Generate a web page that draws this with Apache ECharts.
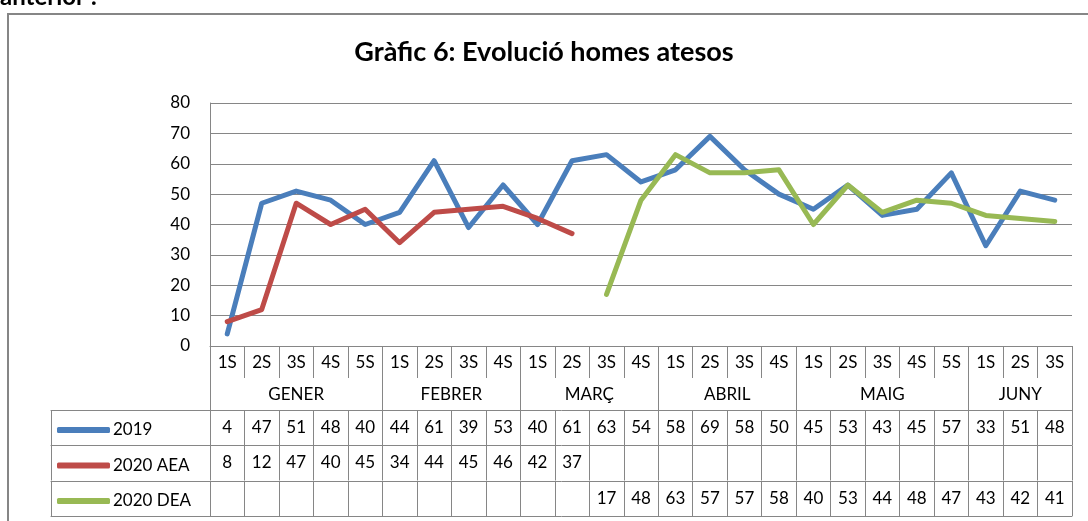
<!DOCTYPE html>
<html>
<head>
<meta charset="utf-8">
<script src="https://cdn.jsdelivr.net/npm/echarts@6/dist/echarts.min.js"></script>
<style>
  html, body { margin: 0; padding: 0; background: #fff; }
  #main { width: 1088px; height: 521px; }
</style>
</head>
<body>
<div id="main"></div>
<script>
// week labels (1S, 2S ...) and the months they belong to
var weeks = ['1S','2S','3S','4S','5S', '1S','2S','3S','4S', '1S','2S','3S','4S',
             '1S','2S','3S','4S', '1S','2S','3S','4S','5S', '1S','2S','3S'];
var months = ['GENER', 'FEBRER', 'MARÇ', 'ABRIL', 'MAIG', 'JUNY'];
var weeksPerMonth = [5, 4, 4, 4, 5, 3];

var seriesNames = ['2019', '2020 AEA', '2020 DEA'];
var v2019 = [4, 47, 51, 48, 40, 44, 61, 39, 53, 40, 61, 63, 54, 58, 69, 58, 50, 45, 53, 43, 45, 57, 33, 51, 48];
var vAEA = [8, 12, 47, 40, 45, 34, 44, 45, 46, 42, 37, null, null, null, null, null, null, null, null, null, null, null, null, null, null];
var vDEA = [null, null, null, null, null, null, null, null, null, null, null, 17, 48, 63, 57, 57, 58, 40, 53, 44, 48, 47, 43, 42, 41];
var yTicks = [0, 10, 20, 30, 40, 50, 60, 70, 80];

var colors = ['#4a7ebb', '#be4b48', '#98b954'];
var gray = '#868686';
var font = 'Lato, "Noto Sans", sans-serif';
var fs = 17;

var n = weeks.length;
var plotLeft = 210, plotW = 862, plotTop = 103, plotH = 243;
var tableLeft = 51;
var tableMin = -n * (plotLeft - tableLeft) / plotW;

// month boundaries and centres
var monthEdges = [0], monthCenters = {};
var acc = 0;
weeksPerMonth.forEach(function (w, i) {
  monthCenters[acc + w / 2] = months[i];
  acc += w;
  monthEdges.push(acc);
});

var cellEdges = [tableMin];
for (var i = 0; i <= n; i++) cellEdges.push(i);

var allValues = [v2019, vAEA, vDEA];
var rowOffsets = [64, 99.5, 135];
var rowH = 35;

var xAxes = [
  {
    type: 'category', gridIndex: 0, data: weeks,
    axisLine: { onZero: false, lineStyle: { color: gray, width: 1 } },
    axisTick: { show: true, interval: 0, length: 32, lineStyle: { color: gray } },
    axisLabel: { interval: 0, margin: 8, color: '#000', fontSize: fs, fontFamily: font }
  },
  {
    type: 'value', gridIndex: 0, min: 0, max: n, position: 'bottom', offset: 32,
    axisLine: { show: false, onZero: false }, splitLine: { show: false },
    axisTick: { show: true, customValues: monthEdges, length: 32, lineStyle: { color: gray } },
    axisLabel: {
      customValues: Object.keys(monthCenters).map(Number), margin: 8,
      color: '#000', fontSize: fs, fontFamily: font,
      formatter: function (v) { return monthCenters[v] || ''; }
    }
  }
];

allValues.forEach(function (vals, r) {
  var centers = [];
  vals.forEach(function (v, i) { if (v != null) centers.push(i + 0.5); });
  xAxes.push({
    type: 'value', gridIndex: 1, min: tableMin, max: n, position: 'bottom', offset: rowOffsets[r],
    axisLine: { show: true, onZero: false, lineStyle: { color: gray, width: 1 } }, splitLine: { show: false },
    axisTick: { show: true, customValues: cellEdges, length: rowH, lineStyle: { color: gray } },
    axisLabel: {
      customValues: centers, margin: 9, color: '#000', fontSize: fs, fontFamily: font,
      formatter: function (v) { return String(vals[Math.floor(v)]); }
    }
  });
});
// bottom line of the table
xAxes.push({
  type: 'value', gridIndex: 1, min: tableMin, max: n, position: 'bottom', offset: rowOffsets[2] + rowH,
  axisLine: { show: true, onZero: false, lineStyle: { color: gray, width: 1 } },
  splitLine: { show: false }, axisTick: { show: false }, axisLabel: { show: false }
});

var legends = seriesNames.map(function (name, r) {
  return {
    data: [name], left: 57, top: plotTop + plotH + rowOffsets[r] + rowH / 2 - 6, padding: 0,
    icon: 'roundRect', itemWidth: 53, itemHeight: 6, itemGap: 0, selectedMode: false,
    textStyle: { color: '#000', fontSize: fs, fontFamily: font, padding: [0, 0, 0, -2] }
  };
});

var chart = echarts.init(document.getElementById('main'));
chart.setOption({
  animation: false,
  title: {
    text: 'Gràfic 6: Evolució homes atesos', left: 'center', top: 34,
    textStyle: { fontSize: 27, fontWeight: 'bold', color: '#000', fontFamily: font }
  },
  graphic: [
    { type: 'rect', shape: { x: 8, y: 14, width: 1100, height: 540 },
      style: { fill: 'none', stroke: gray, lineWidth: 2 } },
    { type: 'text', left: 0, top: -15,
      style: { text: 'anterior :', font: 'bold 24px ' + font, fill: '#000' } }
  ],
  legend: legends,
  grid: [
    { left: plotLeft, top: plotTop, width: plotW, height: plotH },
    { left: tableLeft, top: plotTop, width: plotLeft + plotW - tableLeft, height: plotH }
  ],
  xAxis: xAxes,
  yAxis: [
    {
      type: 'value', gridIndex: 0, min: yTicks[0], max: yTicks[yTicks.length - 1], interval: 10,
      axisLine: { show: true, lineStyle: { color: gray } },
      axisTick: { show: false },
      axisLabel: { margin: 20, color: '#000', fontSize: fs, fontFamily: font },
      splitLine: { lineStyle: { color: gray, width: 1 } }
    },
    { type: 'value', gridIndex: 1, show: false }
  ],
  series: allValues.map(function (vals, r) {
    return {
      name: seriesNames[r], type: 'line', xAxisIndex: 0, yAxisIndex: 0,
      data: vals, symbol: 'none',
      lineStyle: { color: colors[r], width: 5, cap: 'round', join: 'round' },
      itemStyle: { color: colors[r] }
    };
  })
});
</script>
</body>
</html>
